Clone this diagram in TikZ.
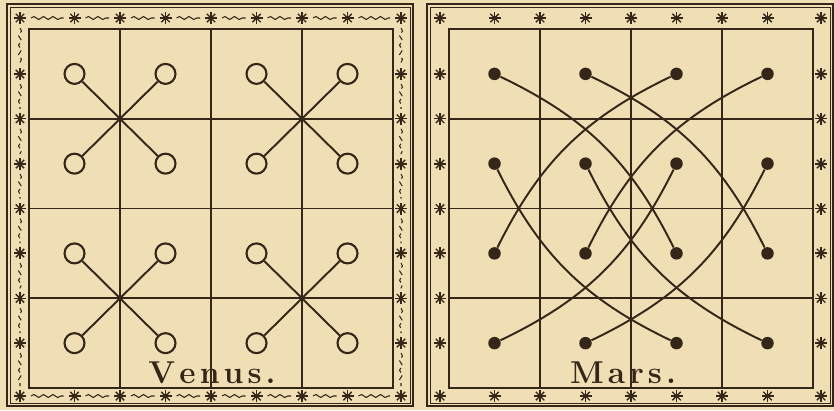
\documentclass[tikz,border=0pt]{standalone}
\usepackage{fontspec}
\usetikzlibrary{decorations.pathmorphing}
\definecolor{paper}{RGB}{240,222,180}
\definecolor{ink}{RGB}{52,38,24}
\newcommand\lsp{\kern0.13em}

\begin{document}
\begin{tikzpicture}[
    x=0.02cm, y=-0.02cm,
    gridline/.style={draw=ink, line width=0.9pt},
    venusring/.style={circle, draw=ink, line width=1.2pt, minimum size=0.4cm, inner sep=0pt},
    marsdot/.style={circle, fill=ink, minimum size=0.25cm, inner sep=0pt},
    link/.style={draw=ink, line width=1.1pt},
    wavy/.style={draw=ink, line width=0.6pt, decorate, decoration={snake, segment length=1.9mm, amplitude=0.3mm}},
    title/.style={text=ink, font=\fontsize{18}{18}\selectfont\bfseries, anchor=base},
    ornstar/.pic={
        \foreach \a in {0,45,90,135} \draw[ink, line width=0.8pt] (\a:6) -- (\a+180:6);
        \fill[ink] (0,0) circle (2.2);
    }
]
    \useasboundingbox (0,0) rectangle (834,410);
    \fill[paper] (0,0) rectangle (834,410);

    % both boards: double frame, 4x4 grid, stars in the border
    \foreach \ox in {0,420} {
        \draw[ink, line width=1.4pt] (\ox+7,4) rectangle (\ox+413,406);
        \draw[ink, line width=0.5pt] (\ox+10,7) rectangle (\ox+410,403);
        \draw[gridline] (\ox+29,29) rectangle (\ox+393,388);
        \foreach \i in {1,2,3} {
            \draw[gridline] (\ox+29+91*\i,29) -- (\ox+29+91*\i,388);
            \draw[gridline] (\ox+29,29+89.75*\i) -- (\ox+393,29+89.75*\i);
        }
        \foreach \x in {20,74.5,120,165.5,211,256.5,302,347.5,401} {
            \pic at (\ox+\x,18) {ornstar};
            \pic at (\ox+\x,396) {ornstar};
        }
        \foreach \y in {74,118.75,164,208.5,253,298.25,343} {
            \pic at (\ox+20,\y) {ornstar};
            \pic at (\ox+401,\y) {ornstar};
        }
    }

    % Venus border - wavy dashes between the stars
    \foreach \x [remember=\x as \px (initially 20)] in {74.5,120,165.5,211,256.5,302,347.5,401} {
        \draw[wavy] (\px+11,18) -- (\x-11,18);
        \draw[wavy] (\px+11,396) -- (\x-11,396);
    }
    \foreach \y [remember=\y as \py (initially 18)] in {74,118.75,164,208.5,253,298.25,343,396} {
        \draw[wavy, densely dashed] (20,\py+10) -- (20,\y-10);
        \draw[wavy, densely dashed] (401,\py+10) -- (401,\y-10);
    }

    % Venus - rings crossed in fours
    \foreach \r in {1,...,4}
        \foreach \c in {1,...,4}
            \node[venusring] (v\r\c) at ({29+91*(\c-0.5)},{29+89.75*(\r-0.5)}) {};
    \foreach \r/\rr in {1/2,3/4}
        \foreach \c/\cc in {1/2,3/4} {
            \draw[link] (v\r\c) -- (v\rr\cc);
            \draw[link] (v\r\cc) -- (v\rr\c);
        }
    \node[title] (venus) at (212,383) {V\lsp e\lsp n\lsp u\lsp s\lsp.};

    % Mars - dots joined by arcs
    \foreach \r in {1,...,4}
        \foreach \c in {1,...,4}
            \node[marsdot] (m\r\c) at ({449+91*(\c-0.5)},{29+89.75*(\r-0.5)}) {};
    \draw[link] (m11) to[bend left=19] (m33);
    \draw[link] (m12) to[bend left=19] (m34);
    \draw[link] (m13) to[bend right=19] (m31);
    \draw[link] (m14) to[bend right=19] (m32);
    \draw[link] (m21) to[bend right=19] (m43);
    \draw[link] (m22) to[bend right=19] (m44);
    \draw[link] (m23) to[bend left=19] (m41);
    \draw[link] (m24) to[bend left=19] (m42);
    \node[title] (mars) at (623,383) {M\lsp a\lsp r\lsp s\lsp.};

\end{tikzpicture}
\end{document}
